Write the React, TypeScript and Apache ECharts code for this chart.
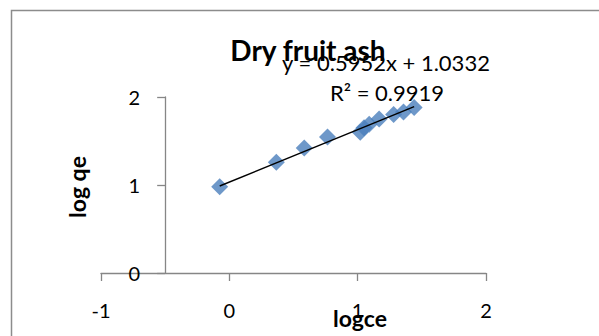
import React, { useEffect, useRef } from "react";
import * as echarts from "echarts";

const titleText = "Dry fruit ash";
const xName = "logce";
const yName = "log qe";
const xTicks = [-1, 0, 1, 2];
const yTicks = [0, 1, 2];
const logCe = [-0.075, 0.366, 0.584, 0.765, 1.02, 1.05, 1.09, 1.167, 1.28, 1.357, 1.44];
const logQe = [0.98, 1.258, 1.42, 1.545, 1.6, 1.65, 1.69, 1.75, 1.8, 1.83, 1.88];
const slope = 0.5952;
const intercept = 1.0332;
const r2 = 0.9919;
const yAxisCross = -0.5;

const FONT = "Lato";

export default function App() {
  const ref = useRef<HTMLDivElement>(null);
  useEffect(() => {
    document.body.style.margin = "0";
    const el = ref.current!;
    const chart = echarts.init(el, null, { renderer: "svg" });
    const W = 599;
    const gLeft = 101;
    const gRight = 113;
    const gTop = 97;
    const gBottom = 63;
    const xMin = xTicks[0];
    const xMax = xTicks[xTicks.length - 1];
    const plotW = W - gLeft - gRight;
    const yOffset = -((yAxisCross - xMin) / (xMax - xMin)) * plotW;
    const xLo = Math.min(...logCe);
    const xHi = Math.max(...logCe);
    const trend = [
      [xLo, slope * xLo + intercept],
      [xHi, slope * xHi + intercept],
    ];
    const axisColor = "#868686";
    const txt = (text: string, x: number, y: number, size: number, bold: boolean, extra: any = {}) => ({
      type: "text",
      x,
      y,
      z: 11,
      ...extra,
      style: {
        text,
        fontFamily: FONT,
        fontWeight: bold ? "bold" : "normal",
        fontSize: size,
        fill: "#000",
        align: "center",
        verticalAlign: "middle",
      },
    });
    chart.setOption({
      animation: false,
      grid: { left: gLeft, right: gRight, top: gTop, bottom: gBottom },
      xAxis: {
        type: "value",
        min: xMin,
        max: xMax,
        interval: 1,
        splitLine: { show: false },
        axisLine: { onZero: false, lineStyle: { color: axisColor, width: 1.3 } },
        axisTick: { show: true, length: 8, lineStyle: { color: axisColor, width: 1.3 } },
        axisLabel: { margin: 27, fontFamily: FONT, fontSize: 20, color: "#000" },
      },
      yAxis: {
        type: "value",
        min: yTicks[0],
        max: yTicks[yTicks.length - 1],
        interval: 1,
        offset: yOffset,
        splitLine: { show: false },
        axisLine: { show: true, onZero: false, lineStyle: { color: axisColor, width: 1.3 } },
        axisTick: { show: true, length: 8, lineStyle: { color: axisColor, width: 1.3 } },
        axisLabel: { margin: 25, fontFamily: FONT, fontSize: 20, color: "#000" },
      },
      series: [
        {
          type: "scatter",
          data: logCe.map((x, i) => [x, logQe[i]]),
          symbol: "diamond",
          symbolSize: 17,
          itemStyle: { color: "#4a7ebb" },
          z: 2,
        },
        {
          type: "line",
          data: trend,
          symbol: "none",
          lineStyle: { color: "#000", width: 1.5 },
          z: 3,
        },
      ],
      graphic: [
        {
          type: "rect",
          shape: { x: 11.5, y: 10.5, width: 700, height: 400 },
          style: { fill: "none", stroke: "#8c8c8c", lineWidth: 1.5 },
          silent: true,
        },
        txt(titleText, 308, 50, 28, true, { z: 10 }),
        txt(`y = ${slope.toFixed(4)}x + ${intercept.toFixed(4)}`, 386, 62, 22, false),
        txt(`R² = ${r2.toFixed(4)}`, 387, 92, 22, false),
        txt(xName, 360, 318, 23, true),
        txt(yName, 77, 187, 23, true, { rotation: Math.PI / 2 }),
      ],
    });
    return () => chart.dispose();
  }, []);
  return (
    <div
      ref={ref}
      style={{ position: "absolute", left: 0, top: 0, width: 599, height: 336, background: "#fff" }}
    />
  );
}
